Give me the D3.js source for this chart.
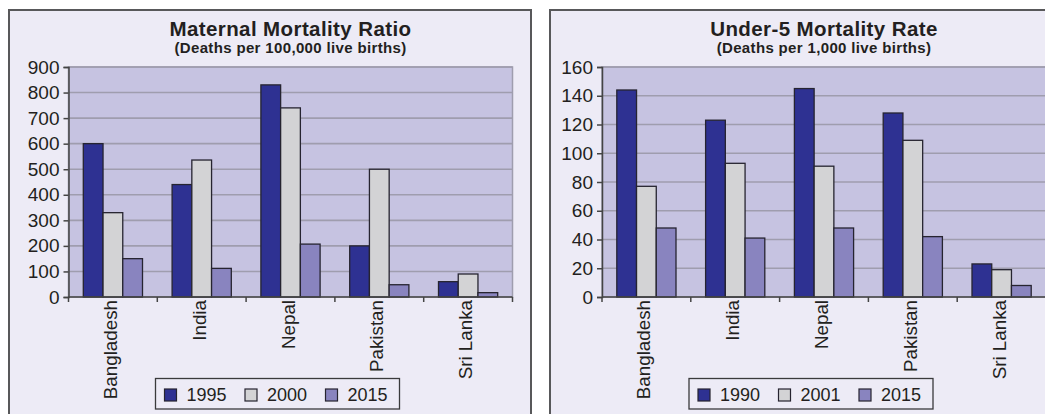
<!DOCTYPE html>
<html>
<head>
<meta charset="utf-8">
<script src="https://cdn.jsdelivr.net/npm/d3@7"></script>
<style>
  html, body { margin: 0; padding: 0; background: #ffffff; }
  svg { display: block; }
  text { font-family: "Liberation Sans", Arial, Helvetica, sans-serif; fill: #231f20; }
</style>
</head>
<body>
<svg id="chart" width="1045" height="414"></svg>
<script>
// Shared categories
const countries = ["Bangladesh", "India", "Nepal", "Pakistan", "Sri Lanka"];

// Maternal mortality ratio (deaths per 100,000 live births)
const mmrYears = ["1995", "2000", "2015"];
const mmr1995 = [600, 440, 830, 200, 60];
const mmr2000 = [330, 536, 740, 500, 90];
const mmr2015 = [150, 112, 207, 48, 17];
const mmrTicks = [0, 100, 200, 300, 400, 500, 600, 700, 800, 900];

// Under-5 mortality rate (deaths per 1,000 live births)
const u5Years = ["1990", "2001", "2015"];
const u51990 = [144, 123, 145, 128, 23];
const u52001 = [77, 93, 91, 109, 19];
const u52015 = [48, 41, 48, 42, 8];
const u5Ticks = [0, 20, 40, 60, 80, 100, 120, 140, 160];

const seriesColors = ["#2e3192", "#d3d3d5", "#8984bf"];

const svg = d3.select("#chart");

function drawPanel(opt) {
  const g = svg.append("g");
  const { panelX, panelW, plotL, plotR, plotT, plotB } = opt;

  // panel frame (bottom edge runs past the canvas)
  g.append("rect")
    .attr("x", panelX).attr("y", 10)
    .attr("width", panelW).attr("height", 440)
    .attr("fill", "#edebf6").attr("stroke", "#58585a").attr("stroke-width", 2);

  // plot background
  g.append("rect")
    .attr("x", plotL).attr("y", plotT)
    .attr("width", plotR - plotL).attr("height", plotB - plotT)
    .attr("fill", "#c6c3e1").attr("stroke", "#9f9dae").attr("stroke-width", 1.5);

  const y = d3.scaleLinear().domain([0, opt.yMax]).range([plotB, plotT]);
  const x0 = d3.scaleBand().domain(countries).range([plotL, plotR]).padding(0);
  const x1 = d3.scaleBand().domain(opt.years).range([0, x0.bandwidth()])
    .paddingInner(0).paddingOuter(0.75);

  // gridlines
  g.append("g").selectAll("line")
    .data(opt.ticks.filter(t => t > 0))
    .join("line")
    .attr("x1", plotL).attr("x2", plotR)
    .attr("y1", d => y(d)).attr("y2", d => y(d))
    .attr("stroke", "#9f9dae").attr("stroke-width", 1.6);

  // bars
  const rows = countries.map((c, i) => ({ country: c, values: opt.series.map(s => s[i]) }));
  g.append("g").selectAll("g")
    .data(rows)
    .join("g")
    .attr("transform", d => `translate(${x0(d.country)},0)`)
    .selectAll("rect")
    .data(d => d.values.map((v, k) => ({ year: opt.years[k], v, k })))
    .join("rect")
    .attr("x", d => x1(d.year))
    .attr("y", d => y(d.v))
    .attr("width", x1.bandwidth())
    .attr("height", d => y(0) - y(d.v))
    .attr("fill", d => seriesColors[d.k])
    .attr("stroke", "#262430").attr("stroke-width", 1.3);

  // y axis
  const yAxis = d3.axisLeft(y).tickValues(opt.ticks).tickSize(5).tickPadding(4);
  const ya = g.append("g").attr("transform", `translate(${plotL},0)`).call(yAxis);
  ya.select(".domain").attr("stroke", "#444").attr("stroke-width", 1.5);
  ya.selectAll(".tick line").attr("stroke", "#444").attr("stroke-width", 1.5);
  ya.selectAll(".tick text")
    .attr("font-size", 19).attr("font-family", null).attr("fill", "#231f20");

  // x axis: tick marks on category boundaries, labels rotated
  const xa = g.append("g");
  xa.append("line")
    .attr("x1", plotL).attr("x2", plotR).attr("y1", plotB).attr("y2", plotB)
    .attr("stroke", "#444").attr("stroke-width", 1.5);
  const bounds = countries.map(c => x0(c)).concat([x0(countries[countries.length - 1]) + x0.bandwidth()]);
  xa.selectAll("line.tk").data(bounds).join("line").attr("class", "tk")
    .attr("x1", d => d).attr("x2", d => d)
    .attr("y1", plotB).attr("y2", plotB + 5)
    .attr("stroke", "#444").attr("stroke-width", 1.5);
  xa.selectAll("text").data(countries).join("text")
    .attr("transform", d => `translate(${x0(d) + x0.bandwidth() / 2 + 4},${plotB + 3}) rotate(-90)`)
    .attr("text-anchor", "end")
    .attr("font-size", 18.8)
    .text(d => d);

  // titles
  const cx = (plotL + plotR) / 2;
  g.append("text").attr("x", cx).attr("y", 36)
    .attr("text-anchor", "middle").attr("font-weight", "bold").attr("font-size", 20.5)
    .attr("letter-spacing", 0.4)
    .text(opt.title);
  g.append("text").attr("x", cx).attr("y", 53)
    .attr("text-anchor", "middle").attr("font-weight", "bold").attr("font-size", 15)
    .attr("letter-spacing", 0.35)
    .text(opt.subtitle);

  // legend
  const lx = plotL + 87, ly = 378.5;
  const lg = g.append("g").attr("transform", `translate(${lx},${ly})`);
  lg.append("rect").attr("width", 244).attr("height", 30.5)
    .attr("fill", "#edebf6").attr("stroke", "#3a3a3c").attr("stroke-width", 1.3);
  const items = lg.selectAll("g").data(opt.years).join("g")
    .attr("transform", (d, i) => `translate(${9 + i * 80.5},0)`);
  items.append("rect").attr("x", 0).attr("y", 10.5).attr("width", 12).attr("height", 12)
    .attr("fill", (d, i) => seriesColors[i]).attr("stroke", "#262430").attr("stroke-width", 1.2);
  items.append("text").attr("x", 22).attr("y", 22.5).attr("font-size", 18).text(d => d);
}

drawPanel({
  panelX: 9, panelW: 522,
  plotL: 68.5, plotR: 512.5, plotT: 67, plotB: 297,
  yMax: 900, ticks: mmrTicks, years: mmrYears,
  series: [mmr1995, mmr2000, mmr2015],
  title: "Maternal Mortality Ratio",
  subtitle: "(Deaths per 100,000 live births)"
});

drawPanel({
  panelX: 550, panelW: 540,
  plotL: 602, plotR: 1046, plotT: 67, plotB: 297,
  yMax: 160, ticks: u5Ticks, years: u5Years,
  series: [u51990, u52001, u52015],
  title: "Under-5 Mortality Rate",
  subtitle: "(Deaths per 1,000 live births)"
});
</script>
</body>
</html>
